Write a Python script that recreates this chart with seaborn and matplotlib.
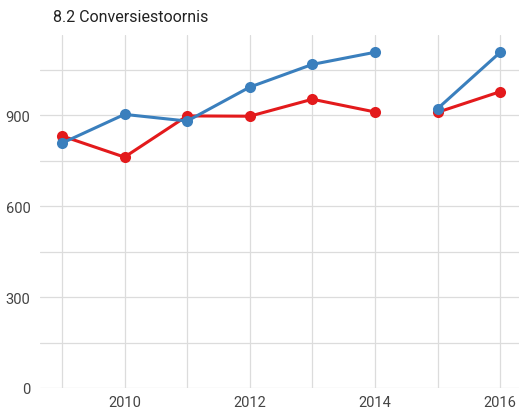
import pandas as pd
import numpy as np
import matplotlib
matplotlib.use('Agg')
import matplotlib.pyplot as plt
from matplotlib.ticker import MultipleLocator
import seaborn as sns

# Data
years = [2009, 2010, 2011, 2012, 2013, 2014, 2015, 2016]
red_values = [832, 762, 898, 897, 953, 911, 910, 978]
blue_values = [808, 903, 881, 993, 1068, 1108, 922, 1108]
# both lines are interrupted between 2014 and 2015
segments = [1, 1, 1, 1, 1, 1, 2, 2]

df = pd.concat([
    pd.DataFrame({'year': years, 'value': red_values, 'series': 'rood', 'segment': segments}),
    pd.DataFrame({'year': years, 'value': blue_values, 'series': 'blauw', 'segment': segments}),
], ignore_index=True)
df['unit'] = df['series'] + df['segment'].astype(str)

sns.set_style('white')
plt.rcParams['font.family'] = ['Roboto', 'DejaVu Sans']

fig = plt.figure(figsize=(5.19, 4.10), dpi=100)
ax = fig.add_axes([40 / 519, 21 / 410, 479 / 519, 353 / 410])

palette = {'rood': '#E31A1C', 'blauw': '#3A7FBD'}
sns.lineplot(data=df, x='year', y='value', hue='series', units='unit', estimator=None,
             palette=palette, hue_order=['rood', 'blauw'], marker='o', markersize=8,
             markeredgewidth=0, linewidth=2.2, legend=False, ax=ax)

ax.set_xlim(2008.65, 2016.3)
ax.set_ylim(0, 1165)
ax.xaxis.set_major_locator(MultipleLocator(2))
ax.xaxis.set_minor_locator(MultipleLocator(1))
ax.yaxis.set_major_locator(MultipleLocator(300))
ax.yaxis.set_minor_locator(MultipleLocator(150))
ax.grid(which='both', color='#dcdcdc', linewidth=0.9)
ax.set_axisbelow(True)
for s in ax.spines.values():
    s.set_visible(False)
ax.tick_params(which='both', length=0, labelsize=10.5, labelcolor='#444444')
ax.tick_params(axis='y', pad=7)
ax.tick_params(axis='x', pad=5)
ax.set_xlabel('')
ax.set_ylabel('')

fig.text(53 / 519, 1 - 17 / 410, '8.2 Conversiestoornis', fontsize=11.5, color='#222222',
         va='center', ha='left')

fig.savefig('out.png', dpi=100)
